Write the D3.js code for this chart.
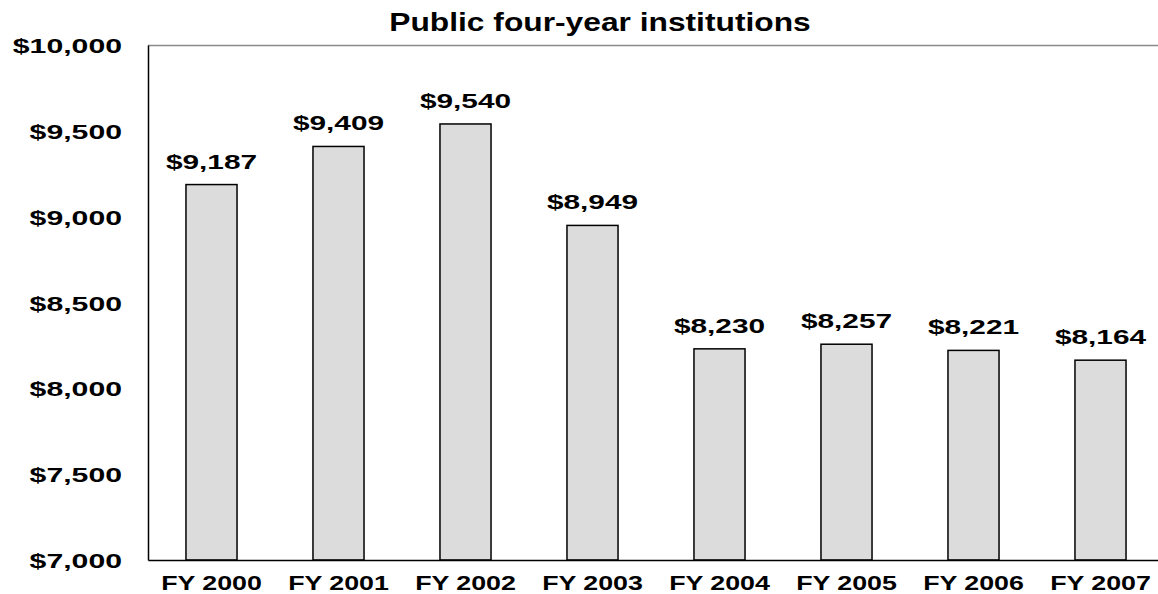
<!DOCTYPE html>
<html>
<head>
<meta charset="utf-8">
<script src="https://cdn.jsdelivr.net/npm/d3@7"></script>
<style>
  html, body { margin: 0; padding: 0; background: #fff; }
  svg { display: block; }
  text { font-family: "Liberation Sans", Arial, sans-serif; font-weight: bold; fill: #000; }
</style>
</head>
<body>
<svg id="chart" width="1158" height="594"></svg>
<script>
// Average cost per student, public four-year institutions
const years = ["FY 2000", "FY 2001", "FY 2002", "FY 2003", "FY 2004", "FY 2005", "FY 2006", "FY 2007"];
const costs = [9187, 9409, 9540, 8949, 8230, 8257, 8221, 8164];
const yTicks = [7000, 7500, 8000, 8500, 9000, 9500, 10000];
const chartTitle = "Public four-year institutions";

const svg = d3.select("#chart");
const W = 1158, H = 594;
const plotLeft = 148, plotTop = 45, plotBottom = 560;
const step = 127;

const x = d3.scaleBand()
  .domain(years)
  .range([plotLeft, plotLeft + step * years.length])
  .paddingInner(0.598)
  .paddingOuter(0.299);

const y = d3.scaleLinear()
  .domain([7000, 10000])
  .range([plotBottom, plotTop]);

const money = d => "$" + d3.format(",")(d);

// wide lettering: text is stretched horizontally around its anchor point
function stretched(sel, sx) {
  sel.attr("transform", function () {
    const tx = +this.getAttribute("x"), ty = +this.getAttribute("y");
    return `translate(${tx},${ty}) scale(${sx},1) translate(${-tx},${-ty})`;
  });
}

// frame: grey top edge, black left and bottom axes
svg.append("line")
  .attr("x1", plotLeft).attr("x2", W)
  .attr("y1", plotTop + 0.5).attr("y2", plotTop + 0.5)
  .attr("stroke", "#8a8a8a").attr("stroke-width", 1.5);

// bars
svg.append("g").selectAll("rect")
  .data(costs)
  .join("rect")
  .attr("x", (d, i) => x(years[i]))
  .attr("y", d => y(d))
  .attr("width", x.bandwidth())
  .attr("height", d => y(7000) - y(d))
  .attr("fill", "#dcdcdc")
  .attr("stroke", "#000")
  .attr("stroke-width", 1.5);

// y axis
const yAxis = svg.append("g")
  .attr("transform", `translate(${plotLeft},0)`)
  .call(d3.axisLeft(y).tickValues(yTicks).tickFormat(money).tickSize(0).tickPadding(26));
yAxis.select(".domain").attr("stroke", "#000").attr("stroke-width", 1.5);
yAxis.selectAll("text")
  .attr("font-size", 21)
  .attr("dy", "0.36em")
  .attr("transform", "translate(-26,0) scale(1.44,1) translate(26,0)");

// x axis
const xAxis = svg.append("g")
  .attr("transform", `translate(0,${plotBottom})`)
  .call(d3.axisBottom(x).tickSize(0).tickPadding(16));
xAxis.select(".domain").attr("stroke", "#000").attr("stroke-width", 1.5);
xAxis.selectAll("text")
  .attr("font-size", 20)
  .attr("dy", "0.71em")
  .attr("transform", "scale(1.34,1)");

// value labels
svg.append("g").selectAll("text")
  .data(costs)
  .join("text")
  .attr("x", (d, i) => x(years[i]) + x.bandwidth() / 2)
  .attr("y", d => y(d) - 16)
  .attr("text-anchor", "middle")
  .attr("font-size", 21)
  .text(d => money(d))
  .call(stretched, 1.42);

// title
svg.append("text")
  .attr("x", 600)
  .attr("y", 31)
  .attr("text-anchor", "middle")
  .attr("font-size", 25)
  .text(chartTitle)
  .call(stretched, 1.27);
</script>
</body>
</html>
